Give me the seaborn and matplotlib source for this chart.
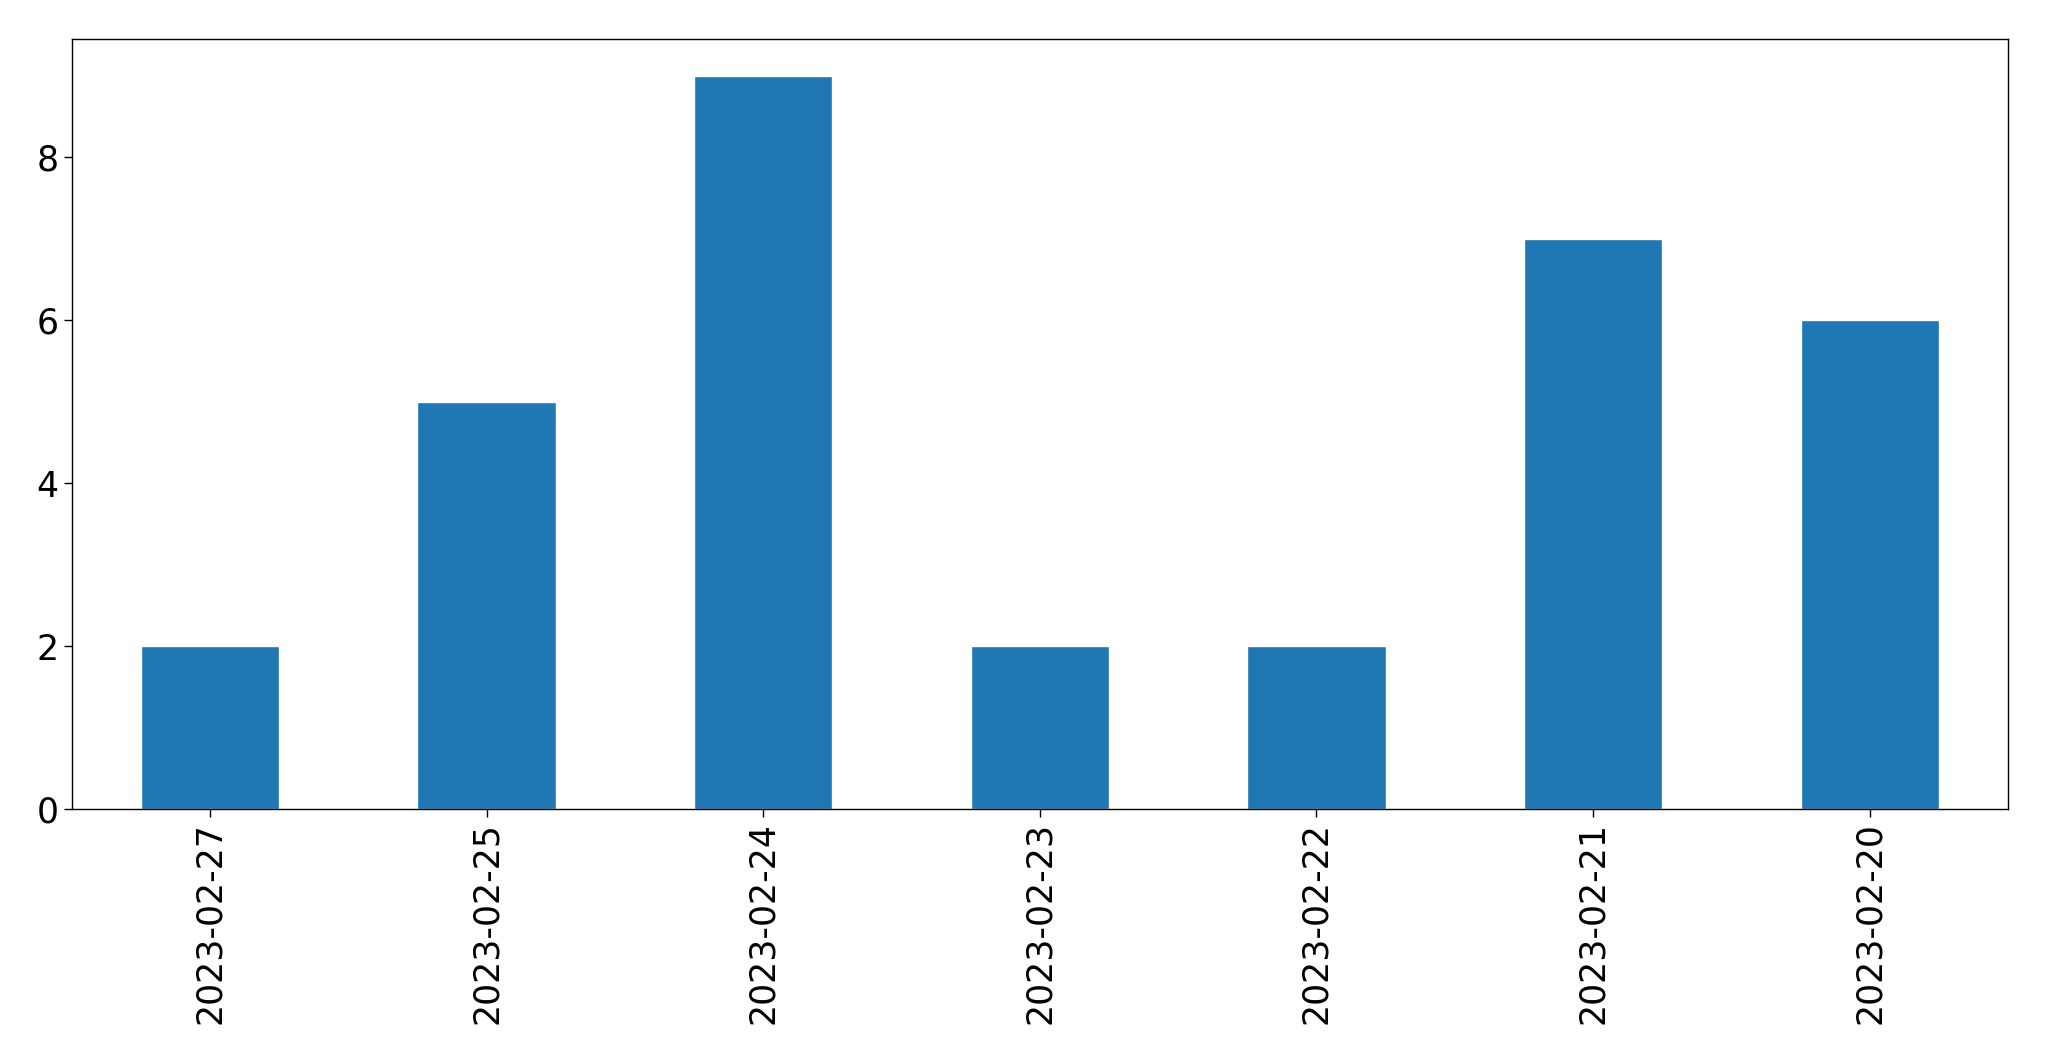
import matplotlib
matplotlib.use("Agg")
import matplotlib.pyplot as plt
import seaborn as sns
import pandas as pd

# Counts per day, in the order shown
dates = ["2023-02-27", "2023-02-25", "2023-02-24", "2023-02-23",
         "2023-02-22", "2023-02-21", "2023-02-20"]
counts = [2, 5, 9, 2, 2, 7, 6]

df = pd.DataFrame({"date": dates, "count": counts})

sns.set_style("white")
plt.rcParams["font.family"] = ["DejaVu Sans"]

fig = plt.figure(figsize=(20.49, 10.61), dpi=100)
ax = fig.add_axes([0.035, 0.2375, 0.945, 0.7255])

sns.barplot(data=df, x="date", y="count", ax=ax, color="#1f77b4",
            saturation=1, width=0.5, order=dates)

ax.set_xlabel("")
ax.set_ylabel("")
ax.set_xlim(-0.5, len(dates) - 0.5)
ax.set_ylim(0, 9.45)
ax.set_yticks([0, 2, 4, 6, 8])
ax.tick_params(axis="both", labelsize=25, length=6, width=1, direction="out",
               bottom=True, left=True, colors="black", labelcolor="black")
plt.setp(ax.get_xticklabels(), rotation=90)
for spine in ax.spines.values():
    spine.set_visible(True)
    spine.set_color("black")
    spine.set_linewidth(1)

fig.savefig("out.png", dpi=100)
